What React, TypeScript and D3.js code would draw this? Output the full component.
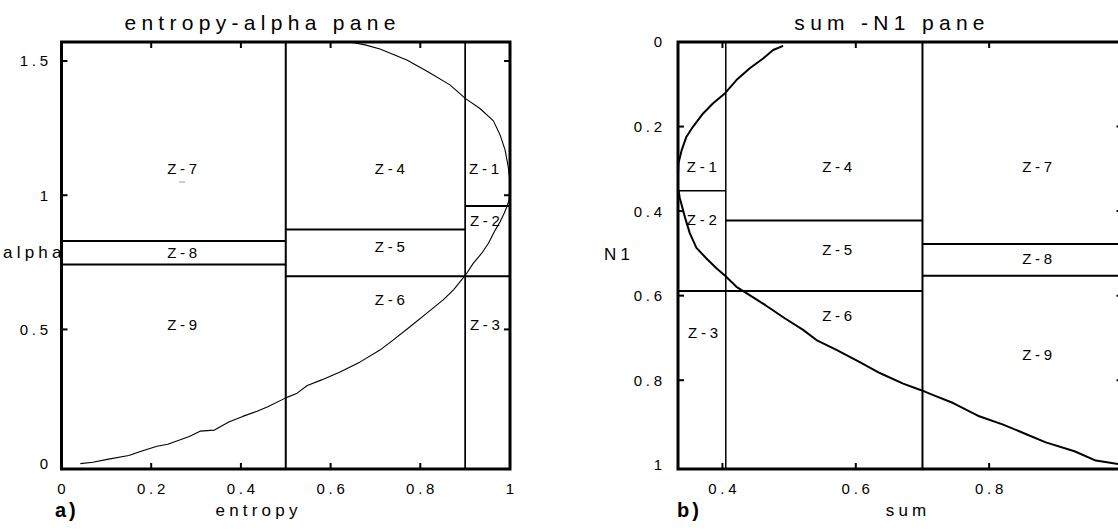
import React from "react";
import * as d3 from "d3";

// ---------- entropy-alpha pane ----------
const entropyTickValues = [0, 0.2, 0.4, 0.6, 0.8, 1];
const alphaTickValues = [0, 0.5, 1, 1.5];
const entropyBounds = [0.5, 0.9];
const entropyBandFrom = [0, 0.5, 0.9];
const entropyBandTo = [0.5, 0.9, 1];
const alphaUpperDeg = [47.5, 50, 55];
const alphaLowerDeg = [42.5, 40, 40];

// feasible-region boundary in the H/alpha plane
const curveEntropy = [
  0.042, 0.07, 0.102, 0.15, 0.181, 0.213, 0.237, 0.285, 0.309, 0.341, 0.373, 0.404,
  0.436, 0.46, 0.5, 0.524, 0.548, 0.58, 0.621, 0.666, 0.71, 0.74, 0.777, 0.814, 0.851,
  0.874, 0.901, 0.918, 0.937, 0.952, 0.967, 0.978, 0.987, 0.993, 0.998, 0.999, 0.999,
  0.996, 0.989, 0.978, 0.963, 0.933, 0.901, 0.866, 0.818, 0.77, 0.71, 0.677, 0.643,
];
const curveAlpha = [
  0.0, 0.005, 0.016, 0.03, 0.048, 0.065, 0.072, 0.101, 0.121, 0.125, 0.155, 0.176,
  0.195, 0.212, 0.245, 0.261, 0.291, 0.312, 0.341, 0.379, 0.423, 0.461, 0.51, 0.56,
  0.61, 0.647, 0.703, 0.746, 0.784, 0.821, 0.87, 0.901, 0.933, 0.957, 0.982, 1.019,
  1.064, 1.106, 1.169, 1.224, 1.277, 1.323, 1.36, 1.411, 1.459, 1.504, 1.545, 1.56, 1.571,
];

const zoneNamesHA = ["Z-7", "Z-4", "Z-1", "Z-8", "Z-5", "Z-2", "Z-9", "Z-6", "Z-3"];
const zoneEntropyHA = [0.269, 0.732, 0.942, 0.269, 0.732, 0.944, 0.269, 0.732, 0.944];
const zoneAlphaHA = [1.101, 1.101, 1.101, 0.785, 0.807, 0.904, 0.517, 0.61, 0.517];

// ---------- sum-N1 pane ----------
const sumTickValues = [0.4, 0.6, 0.8, 1];
const n1TickValues = [0, 0.2, 0.4, 0.6, 0.8, 1];
const sumBounds = [0.405, 0.7];
const n1LineFrom = [1 / 3, 0.405, 1 / 3, 0.7, 0.7];
const n1LineTo = [0.405, 0.7, 0.7, 1, 1];
const n1LineLevel = [0.352, 0.422, 0.589, 0.478, 0.553];

const upperSum = [0.491, 0.476, 0.461, 0.441, 0.421, 0.404, 0.386, 0.371, 0.356, 0.346, 0.339, 0.334, 0.3335];
const upperN1 = [0.009, 0.019, 0.039, 0.062, 0.09, 0.121, 0.145, 0.169, 0.2, 0.224, 0.255, 0.287, 0.307];
const lowerSum = [
  0.334, 0.336, 0.344, 0.351, 0.361, 0.376, 0.391, 0.404, 0.421, 0.436, 0.464, 0.494,
  0.521, 0.541, 0.571, 0.606, 0.636, 0.671, 0.697, 0.719, 0.746, 0.783, 0.821, 0.853,
  0.885, 0.928, 0.96, 1.0,
];
const lowerN1 = [
  0.35, 0.369, 0.416, 0.452, 0.487, 0.512, 0.535, 0.553, 0.579, 0.594, 0.622, 0.654,
  0.681, 0.705, 0.728, 0.757, 0.783, 0.808, 0.823, 0.837, 0.854, 0.884, 0.905, 0.926,
  0.947, 0.968, 0.99, 1.0,
];

const zoneNamesSN = ["Z-1", "Z-2", "Z-3", "Z-4", "Z-5", "Z-6", "Z-7", "Z-8", "Z-9"];
const zoneSumSN = [0.369, 0.369, 0.371, 0.572, 0.572, 0.572, 0.872, 0.872, 0.872];
const zoneN1SN = [0.295, 0.421, 0.688, 0.295, 0.492, 0.646, 0.295, 0.512, 0.74];

const FONT = "'Liberation Sans', Arial, Helvetica, sans-serif";
const deg = (d: number) => (d * Math.PI) / 180;

export default function App() {
  const xL = d3.scaleLinear().domain([0, 1]).range([61.5, 510]);
  const yL = d3.scaleLinear().domain([-0.02, Math.PI / 2]).range([469, 42]);
  const xR = d3.scaleLinear().domain([1 / 3, 1]).range([678, 1122.5]);
  const yR = d3.scaleLinear().domain([0, 1.01]).range([42, 469]);

  const line = d3.line<[number, number]>();
  const leftCurve = line(curveEntropy.map((h, i) => [xL(h), yL(curveAlpha[i])]));
  const upperCurve = line(upperSum.map((s, i) => [xR(s), yR(upperN1[i])]));
  const lowerCurve = line(lowerSum.map((s, i) => [xR(s), yR(lowerN1[i])]));

  const tickLen = 6;
  const tickFs = 15;
  const tickLs = 3.75;
  const zoneFs = 15;
  const zoneLs = 3.75;
  const axisFs = 17;
  const axisLs = 4.2;

  const tickText = (
    key: string,
    x: number,
    y: number,
    txt: string,
    anchor: "middle" | "end"
  ) => (
    <text
      key={key}
      x={x}
      y={y}
      dx={anchor === "middle" ? tickLs / 2 : tickLs}
      textAnchor={anchor}
      fontFamily={FONT}
      fontSize={tickFs}
      letterSpacing={tickLs}
      fill="#000"
    >
      {txt}
    </text>
  );

  const zoneText = (key: string, x: number, y: number, txt: string) => (
    <text
      key={key}
      x={x}
      y={y + 5.4}
      dx={zoneLs / 2}
      textAnchor="middle"
      fontFamily={FONT}
      fontSize={zoneFs}
      letterSpacing={zoneLs}
      fill="#000"
    >
      {txt}
    </text>
  );

  const fmt = (v: number) => String(v);

  return (
    <svg
      width={1118}
      height={529}
      style={{ position: "fixed", left: 0, top: 0, background: "#fff" }}
    >
      <rect x={0} y={0} width={1118} height={529} fill="#fff" />

      {/* ===== entropy-alpha pane ===== */}
      <g>
        {entropyBounds.map((h, i) => (
          <line key={"lv" + i} x1={xL(h)} x2={xL(h)} y1={yL.range()[0]} y2={yL.range()[1]}
            stroke="#000" strokeWidth={i === 0 ? 2 : 1.7} />
        ))}
        {entropyBandFrom.map((h0, i) => (
          <g key={"lb" + i}>
            <line x1={xL(h0)} x2={xL(entropyBandTo[i])} y1={yL(deg(alphaUpperDeg[i]))} y2={yL(deg(alphaUpperDeg[i]))}
              stroke="#000" strokeWidth={2} />
            <line x1={xL(h0)} x2={xL(entropyBandTo[i])} y1={yL(deg(alphaLowerDeg[i]))} y2={yL(deg(alphaLowerDeg[i]))}
              stroke="#000" strokeWidth={2} />
          </g>
        ))}
        <path d={leftCurve ?? ""} fill="none" stroke="#000" strokeWidth={1.1} strokeLinejoin="round" />
        <rect x={xL(0)} y={yL(Math.PI / 2)} width={xL(1) - xL(0)} height={yL(-0.02) - yL(Math.PI / 2)}
          fill="none" stroke="#000" strokeWidth={3} />
        {entropyTickValues.filter((v) => v > 0 && v < 1).map((v) => (
          <g key={"ltx" + v}>
            <line x1={xL(v)} x2={xL(v)} y1={469} y2={469 - tickLen} stroke="#000" strokeWidth={2} />
            <line x1={xL(v)} x2={xL(v)} y1={42} y2={42 + tickLen} stroke="#000" strokeWidth={2} />
          </g>
        ))}
        {alphaTickValues.filter((v) => v > 0).map((v) => (
          <g key={"lty" + v}>
            <line x1={61.5} x2={61.5 + tickLen} y1={yL(v)} y2={yL(v)} stroke="#000" strokeWidth={2} />
            <line x1={510} x2={510 - tickLen} y1={yL(v)} y2={yL(v)} stroke="#000" strokeWidth={2} />
          </g>
        ))}
        {entropyTickValues.map((v) => tickText("lxl" + v, xL(v), 493.5, fmt(v), "middle"))}
        {alphaTickValues.map((v) => tickText("lyl" + v, 48, yL(v) + 5.4, fmt(v), "end"))}
        {zoneNamesHA.map((z, i) => zoneText("lz" + i, xL(zoneEntropyHA[i]), yL(zoneAlphaHA[i]), z))}
        <line x1={xL(zoneEntropyHA[0]) - 3} x2={xL(zoneEntropyHA[0]) + 3} y1={182} y2={182} stroke="#999" strokeWidth={1} />
        <text x={260} y={30} dx={2.6} textAnchor="middle" fontFamily={FONT} fontSize={21} letterSpacing={5.3}>
          entropy-alpha pane
        </text>
        <text x={256.5} y={516} dx={axisLs / 2} textAnchor="middle" fontFamily={FONT} fontSize={axisFs} letterSpacing={axisLs}>
          entropy
        </text>
        <text x={3} y={258} fontFamily={FONT} fontSize={axisFs} letterSpacing={axisLs}>
          alpha
        </text>
        <text x={55} y={517} fontFamily={FONT} fontSize={20} fontWeight="bold" letterSpacing={3}>
          a)
        </text>
      </g>

      {/* ===== sum-N1 pane ===== */}
      <g>
        {sumBounds.map((s, i) => (
          <line key={"rv" + i} x1={xR(s)} x2={xR(s)} y1={yR.range()[0]} y2={yR.range()[1]}
            stroke="#000" strokeWidth={i === 0 ? 1.5 : 2} />
        ))}
        {n1LineLevel.map((n, i) => (
          <line key={"rh" + i} x1={xR(n1LineFrom[i])} x2={xR(n1LineTo[i])} y1={yR(n)} y2={yR(n)}
            stroke="#000" strokeWidth={i === 0 ? 1.5 : 2} />
        ))}
        <path d={upperCurve ?? ""} fill="none" stroke="#000" strokeWidth={2} strokeLinejoin="round" />
        <path d={lowerCurve ?? ""} fill="none" stroke="#000" strokeWidth={2} strokeLinejoin="round" />
        <rect x={xR(1 / 3)} y={yR(0)} width={xR(1) - xR(1 / 3)} height={yR(1.01) - yR(0)}
          fill="none" stroke="#000" strokeWidth={3} />
        {sumTickValues.filter((v) => v < 1).map((v) => (
          <g key={"rtx" + v}>
            <line x1={xR(v)} x2={xR(v)} y1={469} y2={469 - tickLen} stroke="#000" strokeWidth={2} />
            <line x1={xR(v)} x2={xR(v)} y1={42} y2={42 + tickLen} stroke="#000" strokeWidth={2} />
          </g>
        ))}
        {n1TickValues.filter((v) => v > 0 && v < 1).map((v) => (
          <g key={"rty" + v}>
            <line x1={678} x2={678 + tickLen} y1={yR(v)} y2={yR(v)} stroke="#000" strokeWidth={2} />
            <line x1={1122.5} x2={1122.5 - tickLen} y1={yR(v)} y2={yR(v)} stroke="#000" strokeWidth={2} />
          </g>
        ))}
        {sumTickValues.map((v) => tickText("rxl" + v, xR(v), 493.5, fmt(v), "middle"))}
        {n1TickValues.map((v) => tickText("ryl" + v, 662, yR(v) + 5.4, fmt(v), "end"))}
        {zoneNamesSN.map((z, i) => zoneText("rz" + i, xR(zoneSumSN[i]), yR(zoneN1SN[i]), z))}
        <text x={889.5} y={30} dx={2.6} textAnchor="middle" fontFamily={FONT} fontSize={21} letterSpacing={5.3}>
          sum -N1 pane
        </text>
        <text x={906} y={516} dx={axisLs / 2} textAnchor="middle" fontFamily={FONT} fontSize={axisFs} letterSpacing={axisLs}>
          sum
        </text>
        <text x={604} y={260} fontFamily={FONT} fontSize={axisFs} letterSpacing={axisLs}>
          N1
        </text>
        <text x={677} y={517} fontFamily={FONT} fontSize={20} fontWeight="bold" letterSpacing={3}>
          b)
        </text>
      </g>
    </svg>
  );
}
